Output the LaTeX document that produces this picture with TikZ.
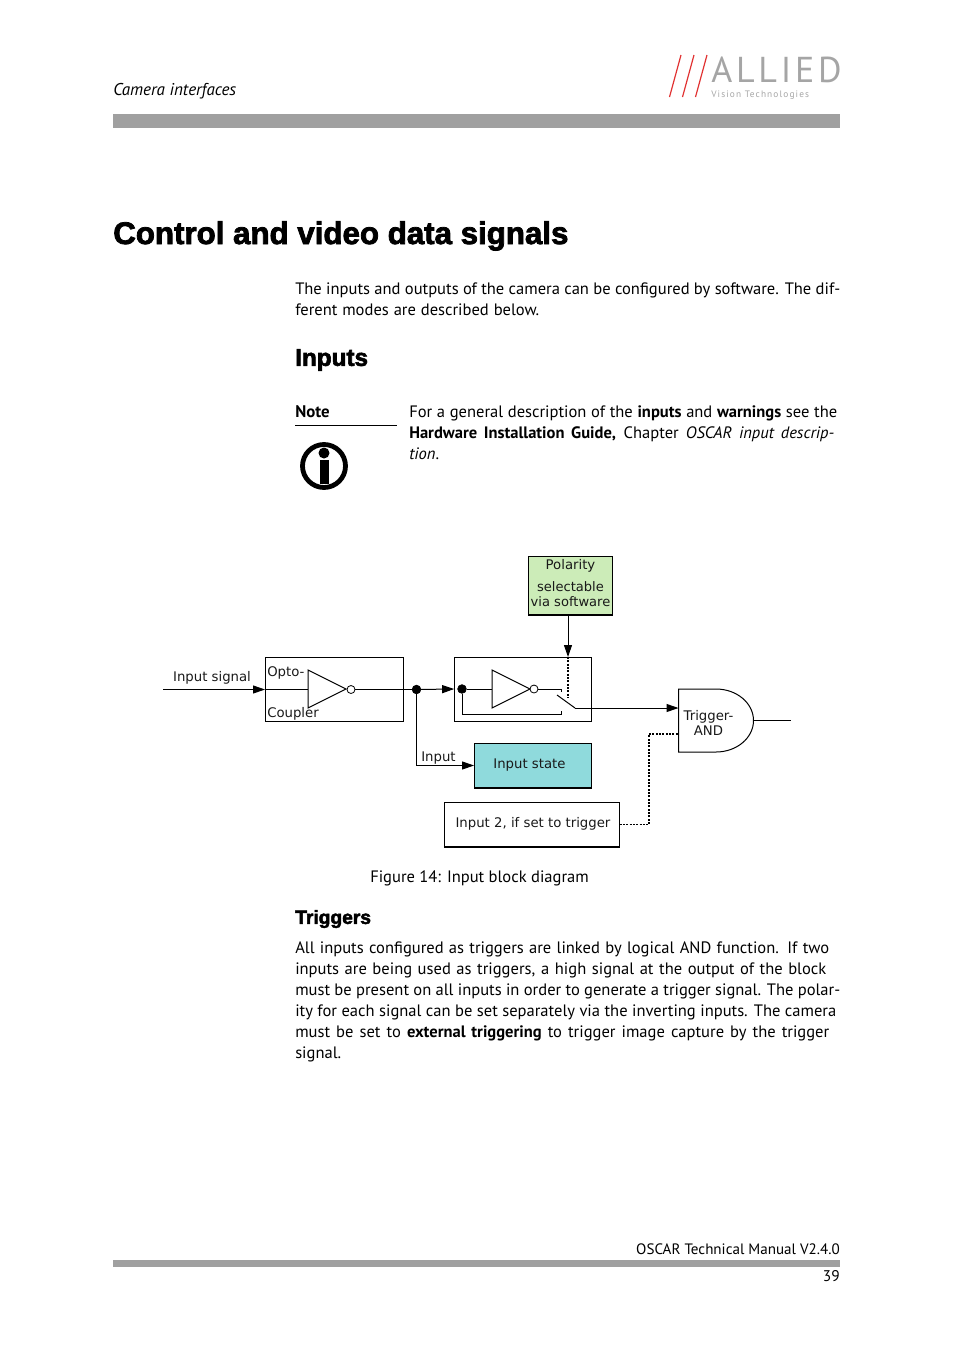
\documentclass[tikz,border=0pt]{standalone}
\usepackage{fontspec}
\setmainfont{PT Sans}
\newfontfamily\diagfont{DejaVu Sans}
\newfontfamily\headfont[FakeBold=2.5]{Liberation Sans Bold}
\usetikzlibrary{arrows.meta}
\definecolor{barGray}{RGB}{160,160,160}
\definecolor{logoGray}{RGB}{165,165,165}
\definecolor{logoRed}{RGB}{225,50,50}
\definecolor{polGreen}{RGB}{204,236,184}
\definecolor{stateCyan}{RGB}{143,218,220}
\newcommand{\fitline}[2]{\makebox[\dimexpr#1pt*3/4\relax][s]{#2}}
\tikzset{
  bodytext/.style={anchor=north west,inner sep=0pt,align=left,font=\fontsize{12.4}{15.75}\selectfont},
  difftext/.style={anchor=center,inner sep=0pt,align=center,font=\diagfont\fontsize{9.95}{11.2}\selectfont,color=black!90},
  block/.style={draw,line width=0.75pt,inner sep=0pt},
  dot/.style={circle,fill=black,draw=black,inner sep=0pt,minimum size=6.6pt},
  bubble/.style={circle,fill=white,draw=black,line width=0.6pt,inner sep=0pt,minimum size=6pt},
  wire/.style={line width=0.75pt},
  sigarrow/.style={wire,-{Triangle[length=9pt,width=6pt]}},
  dotwire/.style={line width=1.1pt,dash pattern=on 1.5pt off 1pt},
}
\begin{document}
\begin{tikzpicture}[x=0.75pt,y=0.75pt,yscale=-1,xscale=1]
\useasboundingbox (0,0) rectangle (954,1350);

% header
\fill[barGray] (113,114) rectangle (840,128);
\node (running) [anchor=west,inner sep=0pt,font=\fontsize{12.8}{15}\selectfont\itshape] at (113,91) {Camera interfaces};
\foreach \i in {0,1,2}
  \draw[logoRed,line width=0.9pt] (681+\i*13,55) -- (669.5+\i*13,97);
\node (logoname) [anchor=west,inner sep=0pt,color=logoGray,font=\fontsize{27}{30}\selectfont] at (711,69.5) {\addfontfeatures{LetterSpace=10.5}ALLIED};
\node (logosub) [anchor=west,inner sep=0pt,color=logoGray,font=\fontsize{7}{9}\selectfont] at (711,95) {\addfontfeatures{LetterSpace=12}Vision Technologies};

% headings
\node (title) [anchor=west,inner sep=0pt,font=\headfont\fontsize{23.45}{26}\selectfont] at (113,236) {Control and video data signals};
\node (intro) [bodytext] at (295,282.5) {\fitline{545}{The inputs and outputs of the camera can be configured by software. The dif-}\\\fitline{244}{ferent modes are described below.}};
\node (inputs) [anchor=west,inner sep=0pt,font=\headfont\fontsize{18.2}{20}\selectfont] at (295,360) {Inputs};

% note
\node (notehead) [anchor=west,inner sep=0pt,font=\fontsize{12.6}{15}\selectfont\bfseries] at (295,412) {Note};
\draw[line width=0.75pt] (295,425.5) -- (397,425.5);
\node (notetext) [bodytext] at (409,405) {\fitline{428}{For a general description of the \textbf{inputs} and \textbf{warnings} see the}\\\fitline{425}{\textbf{Hardware Installation Guide,} Chapter \textit{OSCAR input descrip-}}\\\textit{tion}.};
\draw[line width=3.6pt] (324,466) circle (21.5);
\fill (324,453) circle (5.5);
\fill (319.5,460) rectangle (328.5,484);

% diagram blocks
\node (optobox) [block,line width=0.9pt,minimum width=103.5pt,minimum height=48pt] at (334.5,689.5) {};
\node (polbox) [block,fill=polGreen,minimum width=63pt,minimum height=44pt] at (570.5,585.5) {};
\node (invbox) [block,minimum width=102.5pt,minimum height=48pt] at (523,689) {};
\node (statebox) [block,fill=stateCyan,minimum width=88pt,minimum height=33.5pt] at (533.2,765.5) {};
\node (trigbox) [block,minimum width=131pt,minimum height=33.5pt] at (531.8,824.5) {};
\foreach \b in {polbox,statebox,trigbox}
  \draw[line width=1.5pt] (\b.south west) -- (\b.south east);

% AND gate
\draw[line width=0.75pt,fill=white] (678.5,689) -- (716,689) arc (-90:90:37.5 and 31.5) -- (678.5,752) -- cycle;
\coordinate (andin1) at (678.5,708);
\coordinate (andin2) at (678.5,734);
\coordinate (andout) at (753.5,720);
\coordinate (outend) at (791,720);

% inverters
\foreach \xa in {308,492}
  \draw[line width=0.75pt] (\xa,670) -- (\xa,708) -- (\xa+38,689) -- cycle;
\coordinate (optotri) at (308,689.5);
\coordinate (invtri) at (492,689);
\node (bubbleA) [bubble] at (351,689.5) {};
\node (bubbleB) [bubble] at (534,689) {};

% junctions
\node (juncA) [dot] at (416.5,689.5) {};
\node (juncB) [dot] at (462,689) {};

% connectors
\coordinate (instart) at (163,689.5);
\coordinate (optoin) at (265,689.5);
\draw[sigarrow] (instart) -- (optoin);
\draw[wire] (optoin) -- (optotri);
\draw[wire] (bubbleA) -- (juncA);
\draw[sigarrow] (juncA) -- (invbox.west);
\draw[sigarrow] (juncA) |- (statebox.west);
\draw[wire] (juncB) -- (invtri);

% switch
\coordinate (swtop) at (561,692);
\coordinate (swbot) at (561,714);
\coordinate (armA) at (557,695);
\coordinate (armB) at (575,708);
\draw[wire] (bubbleB) -- (561,689) -- (swtop);
\draw[wire] (juncB) -- (462,714) -- (swbot) -- (561,711);
\draw[wire] (armA) -- (armB);
\draw[sigarrow] (armB) -- (andin1);
\draw[wire] (andout) -- (outend);

% polarity control
\coordinate (polfoot) at (568,615);
\coordinate (polhead) at (568,657);
\coordinate (polend) at (568,698);
\draw[sigarrow] (polfoot) -- (polhead);
\draw[dotwire] (polhead) -- (polend);

% second input
\draw[dotwire] (trigbox.east) -- (649,824.5) -- (649,734) -- (andin2);

% labels
\node (lblin) [difftext] at (212,678) {Input signal};
\node (lblopto) [difftext,anchor=west] at (267,673) {Opto-};
\node (lblcoup) [difftext,anchor=west] at (267,714) {Coupler};
\node (lblinput) [difftext] at (438.5,758.5) {Input};
\node (lblstate) [difftext] at (529.5,765) {Input state};
\node (lbltrig) [difftext] at (533,824) {Input 2, if set to trigger};
\node (lblpol) [difftext] at (570.5,565.5) {Polarity};
\node (lblsel) [difftext,font=\diagfont\fontsize{9.8}{11.2}\selectfont] at (570.5,594) {selectable\\via software};
\node (lbland) [difftext] at (708.5,723) {Trigger-\\AND};

% below the figure
\node (caption) [anchor=west,inner sep=0pt,font=\fontsize{12.4}{15}\selectfont] at (370,878) {Figure 14: Input block diagram};
\node (triggers) [anchor=west,inner sep=0pt,font=\headfont\fontsize{14.4}{16}\selectfont] at (295,919) {Triggers};
\node (trigtext) [bodytext] at (295,941) {\fitline{534}{All inputs configured as triggers are linked by logical AND function. If two}\\\fitline{531}{inputs are being used as triggers, a high signal at the output of the block}\\\fitline{545}{must be present on all inputs in order to generate a trigger signal. The polar-}\\\fitline{541}{ity for each signal can be set separately via the inverting inputs. The camera}\\\fitline{534}{must be set to \textbf{external triggering} to trigger image capture by the trigger}\\signal.};

% footer
\node (manual) [anchor=east,inner sep=0pt,font=\fontsize{11.3}{14}\selectfont] at (840,1249) {OSCAR Technical Manual V2.4.0};
\fill[barGray] (113,1260) rectangle (840,1267);
\node (pageno) [anchor=east,inner sep=0pt,font=\fontsize{11.6}{14}\selectfont] at (840,1276) {39};
\end{tikzpicture}
\end{document}
